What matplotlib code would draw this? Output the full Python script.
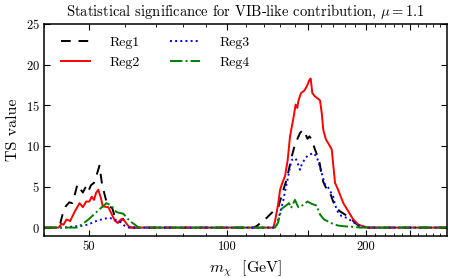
import numpy as np
import matplotlib
matplotlib.use('Agg')
import matplotlib.pyplot as plt
from matplotlib.ticker import FixedLocator, MultipleLocator, NullFormatter, FixedFormatter

plt.rcParams['font.family'] = 'serif'
plt.rcParams['font.serif'] = ['cmr10']
plt.rcParams['mathtext.fontset'] = 'cm'
plt.rcParams['axes.formatter.use_mathtext'] = True

# Reg1 (black dashed)
m_reg1 = [40, 42.5, 43.3, 43.8, 44.5, 45.3, 46.0, 46.7, 47.2, 47.8, 48.5, 49.2, 49.8,
          50.5, 51.3, 52.0, 52.7, 53.4, 54.0, 54.7, 55.3, 56.2, 57.0, 57.8, 58.5, 59.3,
          60.0, 61.0, 62.0, 114.0, 115.9, 121.8, 125.9, 128.9, 132.2, 134.6, 138.2,
          140.3, 143.9, 146.1, 147.6, 149.4, 150.9, 152.6, 155.1, 158.3, 159.8, 161.7,
          163.9, 166.6, 168.9, 171.5, 175.8, 180.3, 184.8, 189.5, 194.3, 199.0, 300]
ts_reg1 = [0, 0, 0.5, 1.6, 2.6, 3.1, 3.0, 4.3, 5.3, 4.8, 4.3, 5.0, 4.4,
           5.2, 5.5, 6.5, 7.6, 5.3, 4.2, 3.0, 2.6, 2.4, 1.2, 0.6, 0.8, 1.1,
           0.6, 0.1, 0, 0, 0.2, 1.2, 2.0, 2.4, 4.5, 5.9, 8.8,
           10.2, 11.6, 12.0, 11.6, 10.9, 11.2, 10.8, 9.6, 8.3, 7.0, 5.6,
           4.9, 4.6, 3.6, 2.6, 2.0, 1.6, 1.2, 0.6, 0.1, 0, 0]

# Reg2 (red solid)
m_reg2 = [40, 42.9, 43.6, 44.0, 44.7, 45.5, 46.6, 47.7, 48.5, 49.3, 50.1, 50.7, 51.3,
          51.8, 52.4, 53.1, 53.6, 55.1, 56.1, 57.0, 57.7, 58.9, 59.6, 60.6, 61.4,
          125.9, 127.0, 129.1, 130.2, 131.7, 133.5, 135.3, 136.9, 139.2, 140.8, 142.0,
          142.7, 144.6, 147.0, 148.8, 150.8, 151.8, 153.1, 155.1, 157.7, 159.1, 160.5,
          161.7, 163.9, 166.0, 168.7, 171.5, 174.3, 178.8, 183.3, 187.9, 192.7, 197.6,
          202.6, 300]
ts_reg2 = [0, 0, 0.45, 0.35, 1.0, 0.8, 2.0, 3.0, 2.5, 3.2, 3.2, 3.8, 3.4,
           4.25, 4.65, 3.6, 2.6, 2.5, 1.6, 0.8, 0.6, 1.07, 0.9, 0.35, 0,
           0, 0.8, 3.0, 4.6, 5.5, 6.3, 8.3, 11.2, 13.4, 15.1, 14.7,
           15.5, 16.5, 16.8, 17.3, 18.1, 18.3, 16.5, 16.1, 15.8, 15.6, 14.0,
           12.0, 10.8, 10.3, 9.6, 5.5, 4.6, 3.0, 2.0, 1.0, 0.37, 0.15,
           0, 0]

# Reg3 (blue dotted)
m_reg3 = [40, 44.0, 46.5, 48.0, 50.0, 51.2, 52.5, 54.0, 55.5, 56.5, 57.5, 58.5, 59.5,
          61.0, 127.0, 128.1, 130.2, 132.4, 134.0, 135.7, 136.9, 138.1, 140.8, 142.7,
          143.9, 145.1, 147.6, 150.1, 153.8, 156.5, 159.1, 161.7, 163.1, 165.8, 170.0,
          171.5, 174.3, 177.3, 181.8, 186.4, 191.2, 196.0, 200.9, 300]
ts_reg3 = [0, 0, 0.15, 0.2, 0.4, 0.7, 0.9, 1.1, 1.2, 1.0, 0.9, 0.7, 0.3,
           0, 0, 0.37, 1.8, 3.4, 4.9, 6.3, 7.5, 8.3, 8.5, 7.7,
           7.1, 7.7, 8.5, 8.9, 9.15, 8.7, 7.4, 6.0, 5.3, 4.9, 3.8,
           2.8, 1.8, 1.4, 1.2, 0.8, 0.4, 0.15, 0, 0]

# Reg4 (green dash-dot)
m_reg4 = [40, 47.0, 48.2, 49.9, 52.6, 54.6, 55.9, 57.4, 59.4, 61.4, 63.5, 64.2,
          127.0, 128.9, 131.2, 134.9, 136.2, 137.6, 140.3, 142.7, 144.6, 149.4, 152.8,
          156.5, 159.1, 162.3, 166.3, 170.6, 174.2, 180.3, 187.6, 194.3, 300]
ts_reg4 = [0, 0, 0.37, 1.0, 2.2, 3.0, 2.7, 1.9, 1.7, 0.8, 0.2, 0,
           0, 0.6, 2.3, 2.8, 3.0, 2.4, 3.4, 2.5, 2.6, 3.2, 2.9,
           2.7, 1.6, 1.0, 0.7, 0.4, 0.25, 0.15, 0.1, 0, 0]

fig = plt.figure(figsize=(4.53, 2.78), dpi=100)
ax = fig.add_axes([0.098, 0.152, 0.888, 0.762])

ax.plot(m_reg1, ts_reg1, color='k', ls=(0, (5, 4)), lw=1.4, label='Reg1')
ax.plot(m_reg2, ts_reg2, color='r', ls='-', lw=1.4, label='Reg2')
ax.plot(m_reg3, ts_reg3, color='b', ls=':', lw=1.4, label='Reg3')
ax.plot(m_reg4, ts_reg4, color=(0, 0.5, 0), ls='-.', lw=1.4, label='Reg4')

ax.set_xscale('log')
ax.set_xlim(40, 300)
ax.set_ylim(-1, 25)

ax.xaxis.set_major_locator(FixedLocator([50, 100, 150, 200, 250]))
ax.xaxis.set_major_formatter(FixedFormatter(['50', '100', '', '200', '']))
ax.xaxis.set_minor_locator(FixedLocator([v for v in range(40, 301, 10) if v % 50 != 0]))
ax.xaxis.set_minor_formatter(NullFormatter())
ax.yaxis.set_major_locator(MultipleLocator(5))

ax.tick_params(which='both', direction='in', top=True, right=True, labelsize=9)
ax.tick_params(which='major', length=4.5, width=0.8)
ax.tick_params(which='minor', length=2.5, width=0.6)
for s in ax.spines.values():
    s.set_linewidth(1.1)

ax.set_xlabel(r'$m_\chi$  [GeV]', fontsize=11.5)
ax.set_ylabel('TS value', fontsize=11.5)
ax.set_title(r'Statistical significance for VIB-like contribution, $\mu=1.1$', fontsize=10.5)

ax.legend(loc='upper left', ncol=2, frameon=False, fontsize=10, handlelength=2.1,
          handletextpad=1.4, columnspacing=2.2, labelspacing=0.5,
          bbox_to_anchor=(0.01, 1.0))

fig.savefig('out.png', dpi=100)
